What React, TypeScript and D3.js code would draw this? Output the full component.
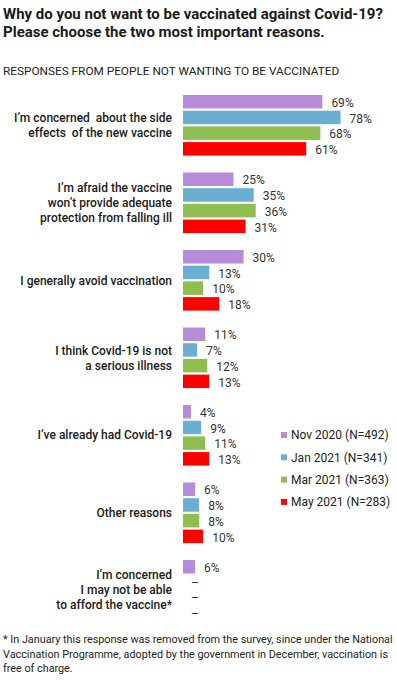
import React from "react";
import * as d3 from "d3";

const categories = [
  ["I\u2019m concerned  about the side", "effects  of the new vaccine"],
  ["I\u2019m afraid the vaccine", "won\u2019t provide adequate", "protection from falling ill"],
  ["I generally avoid vaccination"],
  ["I think Covid-19 is not", "a serious illness"],
  ["I\u2019ve already had Covid-19"],
  ["Other reasons"],
  ["I\u2019m concerned", "I may not be able", "to afford the vaccine*"],
];

const seriesNames = ["Nov 2020 (N=492)", "Jan 2021 (N=341)", "Mar 2021 (N=363)", "May 2021 (N=283)"];
const seriesColors = ["#b68cd9", "#6aaed2", "#8fbd4f", "#ff0000"];

const nov2020 = [69, 25, 30, 11, 4, 6, 6];
const jan2021 = [78, 35, 13, 7, 9, 8, null];
const mar2021 = [68, 36, 10, 12, 11, 8, null];
const may2021 = [61, 31, 18, 13, 13, 10, null];

const seriesValues = [nov2020, jan2021, mar2021, may2021];

const title = [
  "Why do you not want to be vaccinated against Covid-19?",
  "Please choose the two most important reasons.",
];
const subtitle = "RESPONSES FROM PEOPLE NOT WANTING TO BE VACCINATED";
const footnote = [
  "* In January this response was removed from the survey, since under the National",
  "Vaccination Programme, adopted by the government in December, vaccination is",
  "free of charge.",
];

const W = 397;
const H = 680;
const font = "Roboto, 'Noto Sans', sans-serif";

export default function App() {
  const idx = categories.map((_, i) => String(i));

  // group positions
  const y = d3.scaleBand<string>().domain(idx).range([95, 620.6]).paddingInner(0.218).paddingOuter(0);
  // bars within a group
  const yi = d3.scaleBand<string>().domain(seriesNames).range([0, y.bandwidth()]).paddingInner(0.14).paddingOuter(0);
  const x = d3.scaleLinear().domain([0, 100]).range([183, 385]);

  const lineH = 15;

  return (
    <svg
      width={W}
      height={H}
      style={{ position: "absolute", left: 0, top: 0, background: "#fff" }}
      fontFamily={font}
    >
      {title.map((t, i) => (
        <text key={t} x={3} y={19 + i * 17.5} fontSize={15} fontWeight={700} fill="#1a1a1a">
          {t}
        </text>
      ))}
      <text x={3} y={75} fontSize={11.8} fill="#222">
        {subtitle}
      </text>

      {categories.map((lines, ci) => {
        const top = y(String(ci))!;
        const cy = top + y.bandwidth() / 2;
        const n = lines.length;
        return (
          <g key={ci}>
            {lines.map((l, li) => (
              <text
                key={li}
                x={172}
                y={cy + (li - (n - 1) / 2) * lineH}
                dy="0.35em"
                textAnchor="end"
                fontSize={12}
                fontWeight={500}
                fill="#1a1a1a"
                style={{ whiteSpace: "pre" }}
              >
                {l}
              </text>
            ))}
            {seriesNames.map((s, si) => {
              const v = seriesValues[si][ci];
              const by = top + yi(s)!;
              const bh = yi.bandwidth();
              if (v == null) {
                return (
                  <text key={s} x={x(0) + 8} y={by + bh / 2} dy="0.35em" fontSize={12} fill="#333">
                    –
                  </text>
                );
              }
              return (
                <g key={s}>
                  <rect x={x(0)} y={by} width={x(v) - x(0)} height={bh} fill={seriesColors[si]} />
                  <text x={x(v) + 9} y={by + bh / 2 + 1} dy="0.35em" fontSize={12} fill="#333">
                    {v}%
                  </text>
                </g>
              );
            })}
          </g>
        );
      })}

      {seriesNames.map((s, i) => (
        <g key={s} transform={`translate(281, ${435 + i * 22.3})`}>
          <rect x={0} y={-3} width={6} height={6} fill={seriesColors[i]} />
          <text x={10} y={0} dy="0.35em" fontSize={12} fill="#222">
            {s}
          </text>
        </g>
      ))}

      {footnote.map((t, i) => (
        <text key={i} x={3} y={643 + i * 14.5} fontSize={10.8} fill="#222">
          {t}
        </text>
      ))}
    </svg>
  );
}
